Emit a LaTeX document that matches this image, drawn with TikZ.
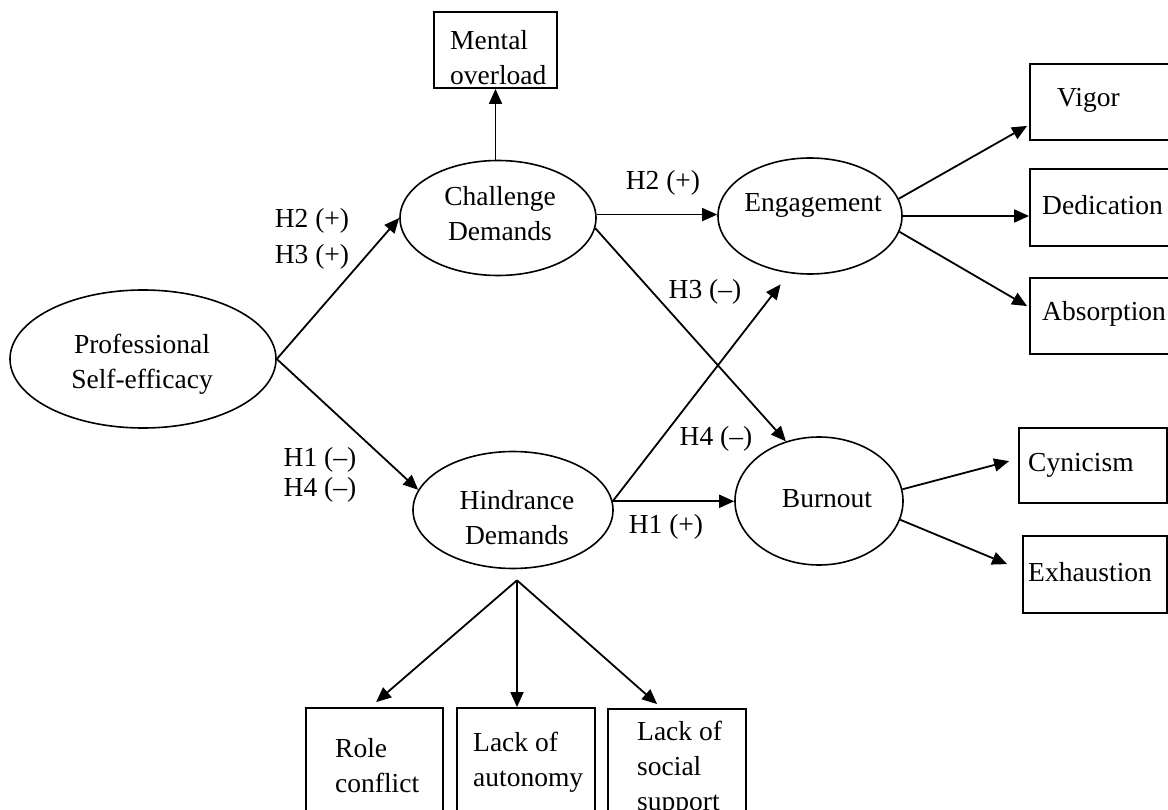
\documentclass[tikz,border=0pt]{standalone}
\usepackage{fontspec}
\setmainfont{Liberation Serif}
\usetikzlibrary{arrows.meta,shapes.geometric}
\begin{document}
\begin{tikzpicture}[x=1pt,y=-1pt,
  txt/.style={font=\fontsize{27.5}{35}\selectfont, inner sep=0pt, align=center},
  latent/.style={draw, ellipse, line width=1.6pt, inner sep=0pt},
  obs/.style={draw, rectangle, line width=1.8pt, inner sep=0pt},
  link/.style={line width=1.8pt, -{Triangle[length=15pt,width=13pt]}},
]
\useasboundingbox (0,0) rectangle (1168,810);
\clip (0,0) rectangle (1168,810);

% latent constructs
\node[latent, minimum width=266pt, minimum height=138pt] (pse) at (143,359) {};
\node[latent, minimum width=196pt, minimum height=115pt] (cd)  at (498,218) {};
\node[latent, minimum width=200pt, minimum height=117pt] (hd)  at (513,510) {};
\node[latent, minimum width=184pt, minimum height=116pt] (eng) at (810,216) {};
\node[latent, minimum width=168pt, minimum height=128pt] (bo)  at (819,501) {};

% construct names
\node[txt] (pse-t) at (142,364) {Professional\\Self-efficacy};
\node[txt] (cd-t)  at (500,214) {Challenge\\Demands};
\node[txt] (hd-t)  at (517,518) {Hindrance\\Demands};
\node[txt] (eng-t) at (813,205) {Engagement};
\node[txt] (bo-t)  at (827,499) {Burnout};

% indicator boxes
\node[obs, minimum width=123pt, minimum height=76pt]  (mo)  at (495.5,50) {};
\node[obs, minimum width=160pt, minimum height=76pt]  (vig) at (1110,102) {};
\node[obs, minimum width=160pt, minimum height=77pt]  (ded) at (1110,207.5) {};
\node[obs, minimum width=160pt, minimum height=76pt]  (abs) at (1110,316) {};
\node[obs, minimum width=148pt, minimum height=75pt]  (cyn) at (1093,465.5) {};
\node[obs, minimum width=144pt, minimum height=77pt]  (exh) at (1095,574.5) {};
\node[obs, minimum width=137pt, minimum height=130pt] (rc)  at (374.5,773) {};
\node[obs, minimum width=138pt, minimum height=130pt] (la)  at (526,773) {};
\node[obs, minimum width=138pt, minimum height=130pt] (ls)  at (677,774) {};

% box texts
\node[txt, anchor=west, align=left] at (450,58) {Mental\\overload};
\node[txt, anchor=west] at (1057,100) {Vigor};
\node[txt, anchor=west] at (1042,205) {Dedication};
\node[txt, anchor=west] at (1042,314) {Absorption};
\node[txt, anchor=west] at (1028,465) {Cynicism};
\node[txt, anchor=west] at (1028,572) {Exhaustion};
\node[txt, anchor=west, align=left] at (335,766) {Role\\conflict};
\node[txt, anchor=west, align=left] at (473,762) {Lack of\\autonomy};
\node[txt, anchor=west, align=left] at (637,769) {Lack of\\social\\support};

% structural paths
\draw[link] (pse.east) -- (cd.west);
\draw[link] (pse.east) -- (hd.168);
\draw[link] (cd.2) -- (cd.2 -| eng.west);
\draw[link] (cd.-6) -- (bo.119);
\coordinate (hdout) at (hd.5);
\draw[link, shorten >=14pt] (hdout) -- (eng.250);
\draw[link] (hdout) -- (hdout -| bo.west);

% measurement paths
\draw[link] (mo.south |- cd.north) -- (mo.south);
\draw[link] (eng.11) -- ([shift={(-2,-15)}]vig.south west);
\draw[link] (eng.east) -- (eng.east -| ded.west);
\draw[link] (eng.-10) -- ([shift={(-2,29)}]abs.north west);
\draw[link] (bo.8) -- ([shift={(-9,34)}]cyn.north west);
\draw[link] (bo.-13) -- ([shift={(-15,29)}]exh.north west);
\coordinate (hub) at ([shift={(4,11)}]hd.south);
\draw[link] (hub) -- ([shift={(71,-5)}]rc.north west);
\draw[link] (hub) -- (hub |- la.north);
\draw[link] (hub) -- ([shift={(50,-4)}]ls.north west);

% path labels
\node[txt] at (312,221) {H2 (+)};
\node[txt] at (312,257) {H3 (+)};
\node[txt] at (663,183) {H2 (+)};
\node[txt] at (705,292) {H3 (--)};
\node[txt] at (716,439) {H4 (--)};
\node[txt] at (666,527) {H1 (+)};
\node[txt] at (320,460) {H1 (--)};
\node[txt] at (320,490) {H4 (--)};
\end{tikzpicture}
\end{document}
